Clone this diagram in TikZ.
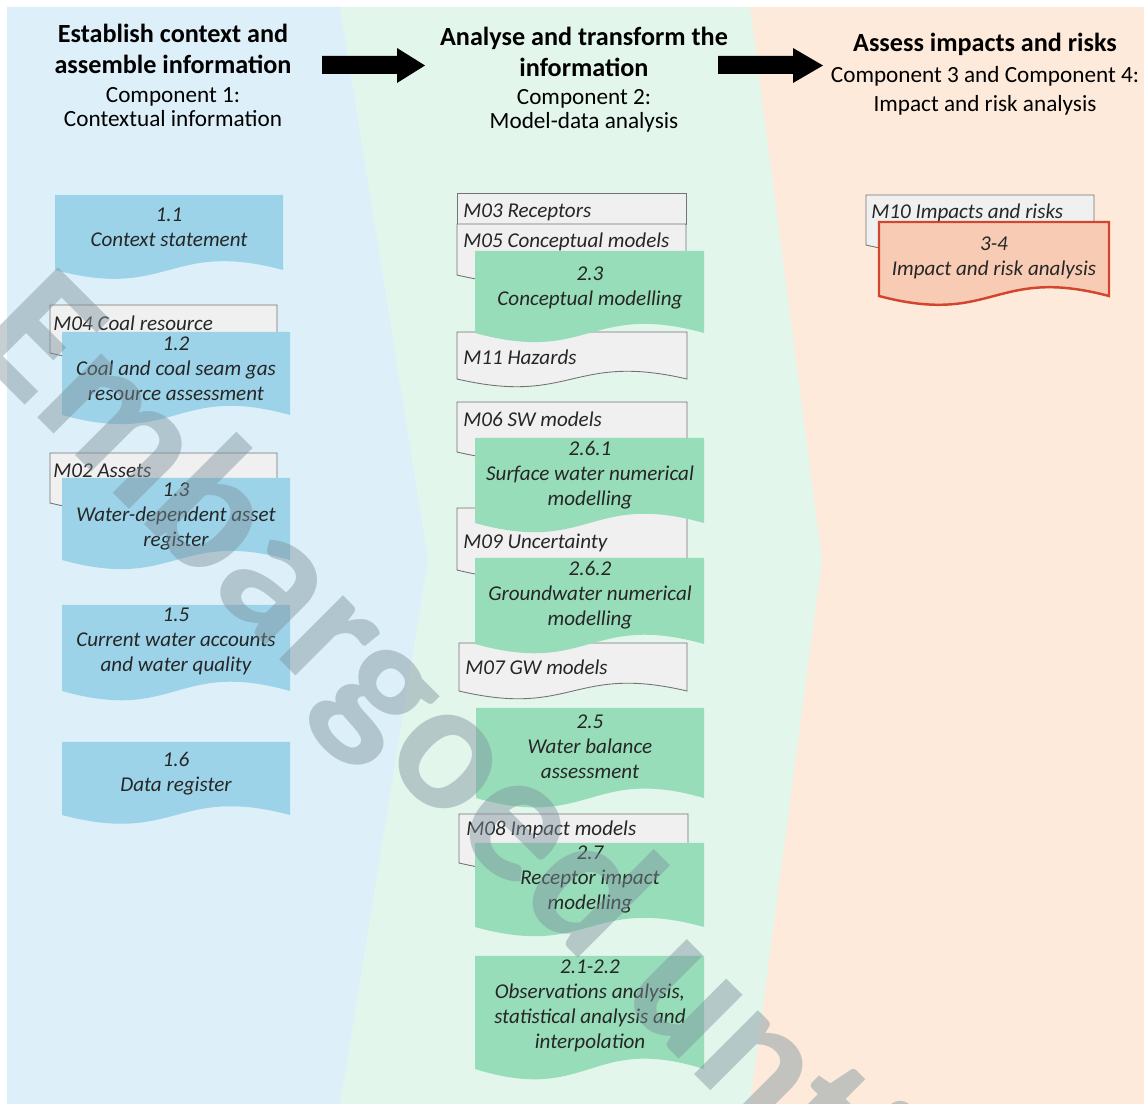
\documentclass[tikz,border=0pt]{standalone}
\usepackage{fontspec}
\setmainfont{Carlito}
\usetikzlibrary{positioning}

\definecolor{bgblue}{HTML}{DDF0F9}
\definecolor{bggreen}{HTML}{E3F6EC}
\definecolor{bgorange}{HTML}{FDEADA}
\definecolor{boxblue}{HTML}{9CD3E9}
\definecolor{boxgreen}{HTML}{98DDB9}
\definecolor{boxgrey}{HTML}{F0F0F0}
\definecolor{boxred}{HTML}{F8CCB4}
\definecolor{linered}{HTML}{D2452F}
\definecolor{wmgrey}{HTML}{7C929D}

\tikzset{
  bluedoc/.style={fill=boxblue},
  greendoc/.style={fill=boxgreen},
  greydoc/.style={fill=boxgrey, draw=black!55, line width=0.5pt},
  reddoc/.style={fill=boxred, draw=linered, line width=1.4pt},
  boxtext/.style={align=center, inner sep=0pt, text=black!85,
    font=\fontsize{12}{14.2}\selectfont\itshape},
  mtext/.style={anchor=west, inner sep=0pt, text=black!85,
    font=\fontsize{12}{14.2}\selectfont\itshape},
  headtext/.style={align=center, inner sep=0pt,
    font=\fontsize{14.9}{17.6}\selectfont\bfseries},
  subtext/.style={align=center, inner sep=0pt,
    font=\fontsize{13.2}{13.6}\selectfont},
  blockarrow/.style={fill=black}
}

% document shape with a wavy bottom: style, x, y, width, height (px)
\newcommand{\docshape}[5]{%
  \pgfmathsetmacro\dsR{#2+#4}%
  \pgfmathsetmacro\dsB{#3+#5}%
  \pgfmathsetmacro\dsM{#2+#4/2}%
  \pgfmathsetmacro\dsK{3.4*(6+0.04*#5)}%
  \path[#1] (#2,#3) -- (\dsR,#3) -- (\dsR,\dsB)
    .. controls (\dsM,\dsB-\dsK) and (\dsM,\dsB+\dsK) .. (#2,\dsB) -- cycle;
}

\begin{document}
\begin{tikzpicture}[x=0.02cm, y=-0.02cm]
  \useasboundingbox (0,0) rectangle (1144,1104);

  % panels
  \fill[bgorange] (7,7) rectangle (1144,1104);
  \fill[bggreen] (7,7) -- (750,7) -- (822,560) -- (750,1104) -- (7,1104) -- cycle;
  \fill[bgblue] (7,7) -- (340,7) -- (428,560) -- (340,1104) -- (7,1104) -- cycle;

  % headings
  \node[headtext] (head1) at (173,48.5) {Establish context and\\assemble information};
  \node[subtext, below=7.8pt of head1] (sub1) {Component 1:\\Contextual information};
  \node[headtext] (head2) at (584,51.5) {Analyse and transform the\\information};
  \node[subtext, below=7.2pt of head2] (sub2) {Component 2:\\Model-data analysis};
  \node[headtext] (head3) at (985,44) {Assess impacts and risks};
  \node[subtext, below=6pt of head3, font=\fontsize{13.2}{16.4}\selectfont] (sub3)
    {Component 3 and Component 4:\\Impact and risk analysis};

  \fill[blockarrow] (322,56) -- (397,56) -- (397,48) -- (425,65.5) -- (397,83)
    -- (397,74) -- (322,74) -- cycle;
  \fill[blockarrow] (718,56) -- (793,56) -- (793,48) -- (823,65.5) -- (793,83)
    -- (793,74) -- (718,74) -- cycle;

  % component 1
  \docshape{bluedoc}{55}{195}{228}{75}
  \node[boxtext] (c11) at (169,227.5) {1.1\\Context statement};
  \docshape{greydoc}{50}{305}{227}{48}
  \node[mtext] (m04) at (53,323) {M04 Coal resource};
  \docshape{bluedoc}{62}{332}{228}{83}
  \node[boxtext] (c12) at (176,368.5) {1.2\\Coal and coal seam gas\\resource assessment};
  \docshape{greydoc}{50}{453}{227}{50}
  \node[mtext] (m02) at (53,471) {M02 Assets};
  \docshape{bluedoc}{62}{478}{228}{82}
  \node[boxtext] (c13) at (176,516.5) {1.3\\Water-dependent asset\\register};
  \docshape{bluedoc}{62}{605}{228}{86}
  \node[boxtext] (c15) at (176,641.5) {1.5\\Current water accounts\\and water quality};
  \docshape{bluedoc}{62}{742}{228}{73}
  \node[boxtext] (c16) at (176,774) {1.6\\Data register};

  % component 2
  \path[greydoc] (457,193) rectangle (686,224);
  \node[mtext] (m03) at (463,212) {M03 Receptors};
  \docshape{greydoc}{457}{224}{229}{51}
  \node[mtext] (m05) at (463,242) {M05 Conceptual models};
  \docshape{greydoc}{457}{332}{230}{47}
  \node[mtext] (m11) at (463,357) {M11 Hazards};
  \docshape{greendoc}{475}{251}{229}{82}
  \node[boxtext] (c23) at (590,288) {2.3\\Conceptual modelling};
  \docshape{greydoc}{457}{402}{230}{50}
  \node[mtext] (m06) at (463,419) {M06 SW models};
  \docshape{greydoc}{457}{508}{230}{62}
  \docshape{greendoc}{475}{438}{229}{85}
  \node[boxtext] (c261) at (590,475.5) {2.6.1\\Surface water numerical\\modelling};
  \node[mtext] (m09) at (463,543) {M09 Uncertainty};
  \docshape{greydoc}{459}{643}{228}{48}
  \node[mtext] (m07) at (465,667) {M07 GW models};
  \docshape{greendoc}{475}{558}{229}{86}
  \node[boxtext] (c262) at (590,595.5) {2.6.2\\Groundwater numerical\\modelling};
  \docshape{greendoc}{476}{708}{228}{90}
  \node[boxtext] (c25) at (590,746.5) {2.5\\Water balance\\assessment};
  \docshape{greydoc}{459}{814}{229}{49}
  \node[mtext] (m08) at (466,830) {M08 Impact models};
  \docshape{greendoc}{475}{843}{229}{84}
  \node[boxtext] (c27) at (590,879.5) {2.7\\Receptor impact\\modelling};
  \docshape{greendoc}{475}{956}{229}{113}
  \node[boxtext] (c2122) at (590,1005.5) {2.1-2.2\\Observations analysis,\\statistical analysis and\\interpolation};

  % component 3 and 4
  \docshape{greydoc}{866}{195}{228}{50}
  \node[mtext] (m10) at (871,213) {M10 Impacts and risks};
  \docshape{reddoc}{879}{222}{230}{74}
  \node[boxtext] (c34) at (994,257.5) {3-4\\Impact and risk analysis};

  % watermark
  \begin{scope}
    \clip (0,0) rectangle (1144,1104);
    \node[rotate=-45, anchor=base west, inner sep=0pt, text=wmgrey, opacity=0.45,
      font=\fontsize{106}{106}\selectfont\bfseries] (wm) at (-35,345) {Embargoed until};
  \end{scope}
\end{tikzpicture}
\end{document}
